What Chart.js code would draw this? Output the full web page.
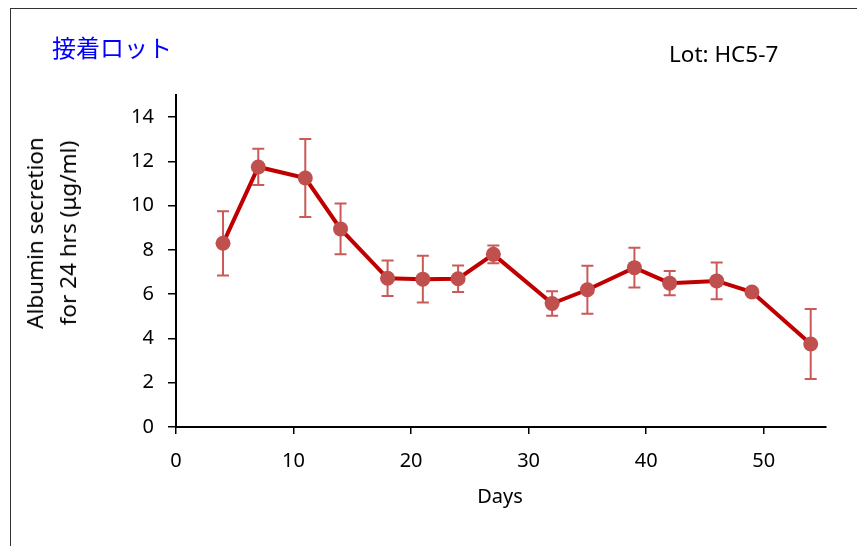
<!DOCTYPE html>
<html>
<head>
<meta charset="utf-8">
<script src="https://cdn.jsdelivr.net/npm/chart.js@4"></script>
<style>
  html, body { margin: 0; padding: 0; background: #fff; }
  #wrap { position: relative; width: 857px; height: 546px; overflow: hidden; font-family: "Noto Sans", sans-serif; }
  #frame { position: absolute; left: 10px; top: 8px; width: 900px; height: 600px; border-left: 1.5px solid #333; border-top: 1.5px solid #333; }
  #title { position: absolute; left: 52px; top: 30px; color: #0000ff; font-family: "Noto Sans CJK JP", sans-serif; font-size: 24px; line-height: 34px; }
  #lot { position: absolute; left: 669px; top: 54px; transform: translateY(-50%); font-size: 22.5px; line-height: 30px; color: #000; }
  #ytitle { position: absolute; left: 51px; top: 233px; transform: translate(-50%, -50%) rotate(-90deg); white-space: nowrap; text-align: center; font-size: 22.5px; line-height: 33px; color: #000; }
  #xtitle { position: absolute; left: 500px; top: 495px; transform: translate(-50%, -50%); font-size: 20px; color: #000; }
  canvas { position: absolute; left: 0; top: 0; }
</style>
</head>
<body>
<div id="wrap">
  <div id="frame"></div>
  <canvas id="grafico" width="857" height="546"></canvas>
  <div id="title">接着ロット</div>
  <div id="lot">Lot: HC5-7</div>
  <div id="ytitle">Albumin secretion<br>for 24 hrs (μg/ml)</div>
  <div id="xtitle">Days</div>
</div>
<script>
// dados
const dias = [4, 7, 11, 14, 18, 21, 24, 27, 32, 35, 39, 42, 46, 49, 54];
const albumina = [8.3, 11.75, 11.25, 8.95, 6.72, 6.68, 6.7, 7.8, 5.58, 6.2, 7.2, 6.5, 6.6, 6.1, 3.75];
const erro = [1.45, 0.82, 1.76, 1.15, 0.8, 1.06, 0.6, 0.4, 0.55, 1.08, 0.9, 0.55, 0.83, 0.0, 1.58];
const xTicks = [0, 10, 20, 30, 40, 50];
const yTicks = [0, 2, 4, 6, 8, 10, 12, 14];

// Plugin das barras de erro
const barrasErro = {
    id: "barrasErro",
    beforeDatasetsDraw(chart) {
        const ctx = chart.ctx;
        const x = chart.scales.x;
        const y = chart.scales.y;
        ctx.save();
        ctx.strokeStyle = "#c95a57";
        ctx.lineWidth = 2;
        dias.forEach((d, i) => {
            if (!erro[i]) return;
            const px = x.getPixelForValue(d);
            const top = y.getPixelForValue(albumina[i] + erro[i]);
            const bot = y.getPixelForValue(albumina[i] - erro[i]);
            ctx.beginPath();
            ctx.moveTo(px, top); ctx.lineTo(px, bot);
            ctx.moveTo(px - 6, top); ctx.lineTo(px + 6, top);
            ctx.moveTo(px - 6, bot); ctx.lineTo(px + 6, bot);
            ctx.stroke();
        });
        ctx.restore();
    }
};

const ctx = document.getElementById("grafico").getContext("2d");
new Chart(ctx, {
    type: "line",
    data: {
        datasets: [{
            data: dias.map((d, i) => ({ x: d, y: albumina[i] })),
            borderColor: "#c00000",
            borderWidth: 4,
            pointRadius: 7.5,
            pointBackgroundColor: "#c0504d",
            pointBorderWidth: 0,
            tension: 0
        }]
    },
    options: {
        responsive: false,
        animation: false,
        layout: { padding: { top: 95, right: 31, left: 0, bottom: 0 } },
        plugins: {
            legend: { display: false },
            tooltip: { enabled: false }
        },
        scales: {
            x: {
                type: "linear",
                min: 0,
                max: 55.3,
                afterBuildTicks: axis => { axis.ticks = xTicks.map(v => ({ value: v })); },
                afterFit: axis => { axis.height = 119; },
                grid: { display: true, drawOnChartArea: false, drawTicks: true, tickLength: 7, color: "#000", lineWidth: 1.5 },
                border: { display: true, color: "#000", width: 2 },
                ticks: { color: "#000", padding: 15, font: { family: "Noto Sans", size: 20 } }
            },
            y: {
                min: 0,
                max: 15,
                afterBuildTicks: axis => { axis.ticks = yTicks.map(v => ({ value: v })); },
                afterFit: axis => { axis.width = 176; },
                grid: { display: true, drawOnChartArea: false, drawTicks: true, tickLength: 8, color: "#000", lineWidth: 1.5 },
                border: { display: true, color: "#000", width: 2 },
                ticks: { color: "#000", padding: 14, font: { family: "Noto Sans", size: 20 } }
            }
        }
    },
    plugins: [barrasErro]
});
</script>
</body>
</html>
